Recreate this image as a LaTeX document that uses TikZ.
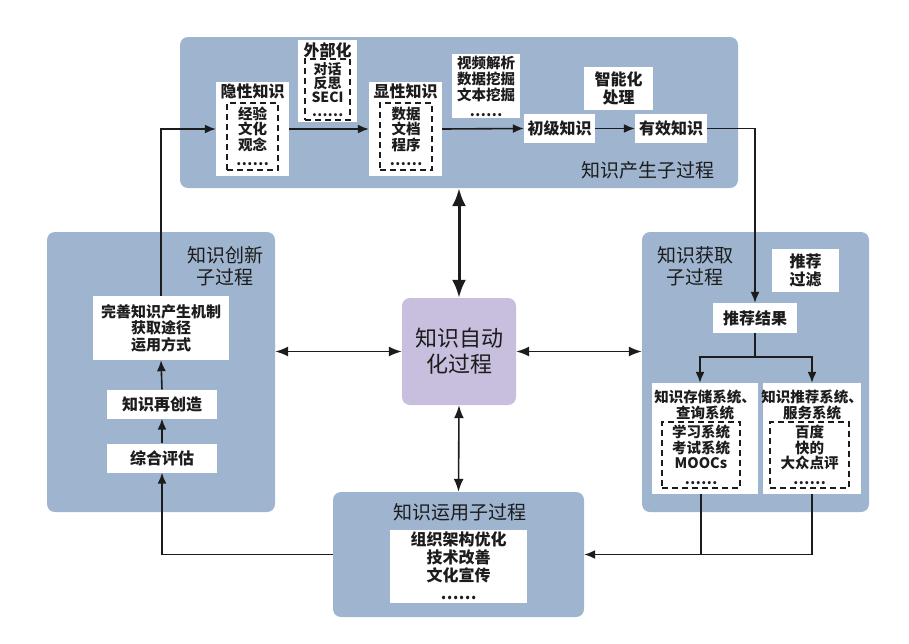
\documentclass[tikz,border=0pt]{standalone}
\usepackage{fontspec}
\newfontfamily\cjk{Noto Sans CJK SC}
\usetikzlibrary{arrows.meta}
\definecolor{panel}{RGB}{158,180,207}
\definecolor{centerc}{RGB}{200,190,222}
\definecolor{ink}{RGB}{28,28,28}
\tikzset{
  panelbox/.style={fill=panel, rounded corners=8pt, inner sep=0pt, draw=none},
  wbox/.style={fill=white, inner sep=0pt, align=center, text=ink, font=\cjk\bfseries\fontsize{16}{18}\selectfont},
  dbox/.style={draw=ink, dash pattern=on 6pt off 4pt, line width=1.2pt, inner sep=0pt, align=center, text=ink, font=\cjk\bfseries\fontsize{14.5}{15.5}\selectfont},
  plain/.style={inner sep=0pt, align=center, text=ink, font=\cjk\bfseries\fontsize{16}{18}\selectfont},
  ttl/.style={inner sep=0pt, align=center, text=ink, font=\cjk\fontsize{19}{23}\selectfont},
  conn/.style={draw=ink, line width=1.6pt, -{Latex[length=11pt,width=9pt]}},
  seg/.style={draw=ink, line width=1.6pt},
  dblthick/.style={draw=ink, line width=3pt, {Latex[length=18pt,width=14pt]}-{Latex[length=18pt,width=14pt]}},
  dblthin/.style={draw=ink, line width=1.6pt, {Latex[length=13pt,width=10pt]}-{Latex[length=13pt,width=10pt]}},
}
\begin{document}
\begin{tikzpicture}[x=1pt,y=-1pt]
\useasboundingbox (0,0) rectangle (909,643);
% panels
\node[panelbox, minimum width=558pt, minimum height=151pt] (top) at (459,112.5) {};
\node[panelbox, minimum width=228pt, minimum height=280pt] (left) at (161,372) {};
\node[panelbox, minimum width=227pt, minimum height=280pt] (right) at (755.5,372) {};
\node[panelbox, minimum width=251pt, minimum height=125pt] (bot) at (458.5,554.5) {};
\node[fill=centerc, rounded corners=8pt, inner sep=0pt, minimum width=114pt, minimum height=107pt,
      align=center, text=ink, font=\cjk\fontsize{22}{26}\selectfont] (mid) at (459,351.5) {知识自动\\化过程};

% top panel contents
\node[wbox, minimum width=73pt, minimum height=94pt] (yin) at (252.5,129) {};
\node[plain] (yint) at (252.5,91) {隐性知识};
\node[dbox, minimum width=51pt, minimum height=67pt] (yind) at (252.5,136.5) {经验\\文化\\观念\\……};

\node[wbox, minimum width=59pt, minimum height=82pt] (wai) at (327.5,81) {};
\node[plain] (wait) at (327.5,50) {外部化};
\node[dbox, minimum width=45pt, minimum height=61pt, font=\cjk\bfseries\fontsize{14}{14}\selectfont] (waid) at (327.5,89.5) {对话\\反思\\SECI\\……};

\node[wbox, minimum width=73pt, minimum height=94pt] (xian) at (405.5,129) {};
\node[plain] (xiant) at (405.5,91) {显性知识};
\node[dbox, minimum width=52pt, minimum height=67pt] (xiand) at (406,136.5) {数据\\文档\\程序\\……};

\node[wbox, minimum width=68pt, minimum height=64pt, font=\cjk\bfseries\fontsize{14.5}{16}\selectfont] (video) at (486,86) {视频解析\\数据挖掘\\文本挖掘\\……};
\node[wbox, minimum width=71pt, minimum height=29pt] (chuji) at (559.5,128.5) {初级知识};
\node[wbox, minimum width=69pt, minimum height=43pt] (zhineng) at (618.5,88.5) {智能化\\处理};
\node[wbox, minimum width=72pt, minimum height=29pt] (youxiao) at (671,128.5) {有效知识};
\node[ttl] (topt) at (648,170) {知识产生子过程};

% left panel contents
\node[ttl, font=\cjk\fontsize{19}{22}\selectfont] (leftt) at (225,266) {知识创新\\子过程};
\node[wbox, minimum width=136pt, minimum height=64pt, font=\cjk\bfseries\fontsize{15}{16.5}\selectfont] (wanshan) at (161,328) {完善知识产生机制\\获取途径\\运用方式};
\node[wbox, minimum width=110pt, minimum height=29pt] (zcz) at (162,404) {知识再创造};
\node[wbox, minimum width=110pt, minimum height=29pt] (zhpg) at (162,458) {综合评估};

% right panel contents
\node[ttl, font=\cjk\fontsize{19}{22}\selectfont] (rightt) at (695,266) {知识获取\\子过程};
\node[wbox, minimum width=67pt, minimum height=43pt] (tjgl) at (805.5,270.5) {推荐\\过滤};
\node[wbox, minimum width=84pt, minimum height=30pt] (tjjg) at (755,318) {推荐结果};
\node[wbox, minimum width=106pt, minimum height=111pt] (cc) at (705,438.5) {};
\node[plain, font=\cjk\bfseries\fontsize{14.5}{16}\selectfont] (cct) at (705,405) {知识存储系统、\\查询系统};
\node[dbox, minimum width=78pt, minimum height=66pt] (ccd) at (701,455) {学习系统\\考试系统\\MOOCs\\……};
\node[wbox, minimum width=98pt, minimum height=111pt] (tj) at (812,438.5) {};
\node[plain, font=\cjk\bfseries\fontsize{14.5}{16}\selectfont] (tjt) at (812,405) {知识推荐系统、\\服务系统};
\node[dbox, minimum width=79pt, minimum height=66pt] (tjd) at (809.5,455) {百度\\快的\\大众点评\\……};

% bottom panel contents
\node[ttl] (bott) at (460,512) {知识运用子过程};
\node[wbox, minimum width=137pt, minimum height=73pt] (botin) at (458.5,566) {组织架构优化\\技术改善\\文化宣传\\……};

% connectors
\draw[conn] (wanshan.north) |- (yin.west);
\draw[conn] (yin.east) -- (xian.west);
\draw[conn] (xian.east) -- (chuji.west);
\draw[conn] (chuji.east) -- (youxiao.west);
\draw[conn] (youxiao.east) -| (tjjg.north);
\draw[seg] (tjjg.south) -- ++(0,24) coordinate (br);
\draw[conn] (br) -| ([xshift=-5pt]cc.north);
\draw[conn] (br) -| (tj.north);
\draw[conn] (tj.south) |- (bot.east);
\draw[seg] ([xshift=-4pt]cc.south) -- ([xshift=-4pt]cc.south |- bot.east);
\draw[conn] (bot.west) -| (zhpg.south);
\draw[conn] (zhpg.north) -- (zcz.south);
\draw[conn] (zcz.north) -- (wanshan.south);

% double arrows
\draw[dblthick] (mid.north) -- (top.south);
\draw[dblthin] (mid.west) -- (mid.west -| left.east);
\draw[dblthin] (mid.east) -- (mid.east -| right.west);
\draw[dblthin] (mid.south) -- (bot.north);
\end{tikzpicture}
\end{document}
